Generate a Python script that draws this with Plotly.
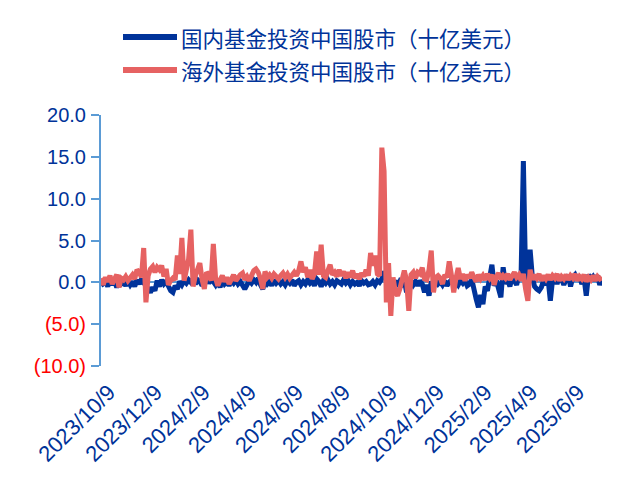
import pandas as pd
import plotly.graph_objects as go

# series, one value roughly every 3 days from 2023/10/9
start_date = "2023-10-09"

domestic = [
    -0.4, -0.2, 0.1, -0.5, 0.3, -0.3, 0.2, -0.6, 0.1, -0.2,
    0.0, -0.4, 0.2, -0.3, 0.1, -0.5, 0.3, -0.2, 0.4, -0.1,
    -0.3, -0.8, -1.2, -0.6, -1.0, 0.2, -0.5, 0.3, -0.2, 0.1,
    -0.6, -1.0, -1.2, -0.4, -0.8, 0.1, -0.3, 0.2, -0.1, 0.3,
    0.0, 0.4, -0.2, 0.3, 0.1, -0.4, 0.2, 0.5, -0.1, 0.3,
    0.1, -0.3, 0.2, -0.6, 0.3, -0.2, 0.1, -0.4, 0.2, -0.1,
    0.3, -0.2, 0.1, -0.5, -0.8, -0.3, 0.2, -0.1, 0.3, 0.0,
    0.5, -0.3, -0.8, 0.2, -0.2, 0.1, -0.4, 0.3, -0.1, 0.2,
    -0.2, 0.1, -0.3, 0.2, -0.1, 0.3, -0.4, 0.0, 0.2, -0.3,
    0.1, -0.2, 0.3, -0.1, 0.2, -0.4, 0.4, 0.1, -0.5, 0.2,
    -0.1, 0.3, -0.2, 0.1, -0.3, 0.2, 0.0, -0.2, 0.3, -0.1,
    0.2, -0.3, 0.1, -0.2, 0.0, -0.4, 0.2, -0.1, 0.1, -0.3,
    -0.2, 0.1, -0.3, 0.2, 0.0, 0.4, 1.3, 0.3, -0.2, 0.1,
    -0.3, 0.2, -0.5, 0.1, -0.2, 0.3, -1.2, 0.0, 0.2, -0.3,
    0.1, -0.4, 0.2, -0.2, -1.2, -0.3, -1.6, 0.1, -0.5, 0.2,
    -0.2, 0.1, -0.3, 0.2, -0.4, 0.0, 0.3, -0.2, 0.1, -0.3,
    0.2, -0.1, 0.3, -0.4, -0.2, 0.4, -1.0, -2.0, -3.0, -1.5,
    -2.6, -0.5, -1.0, 0.3, 2.1, -0.4, 0.2, -0.8, -1.8, 1.8,
    -0.2, 0.4, -0.5, 0.6, 0.2, -0.3, 0.8, 1.1, 14.5, 0.5,
    0.4, 3.9, 0.6, -0.5, -0.8, -1.0, -0.6, 0.2, -0.3, 0.4,
    -2.2, 0.3, 0.6, -0.2, 0.8, 0.4, -0.3, 0.5, 0.9, -0.5,
    0.6, 0.9, 0.3, 0.8, -0.2, 0.5, -1.6, 0.9, 0.4, 0.7,
    0.2, 0.8, -0.3, 0.5,
]

overseas = [
    0.5, -0.3, 0.6, 0.1, 0.8, -0.2, 0.4, 0.9, -0.6, 0.5,
    0.3, 0.7, 0.2, 0.5, 0.9, 0.4, 1.5, 1.2, 0.6, 4.1,
    -2.4, 0.8, 1.6, 1.9, 1.2, 1.8, 1.5, 2.0, 0.7, 1.6,
    -0.3, 0.2, 0.5, 0.3, 3.2, 1.0, 5.3, 0.2, 1.5, 2.8,
    6.3, -0.5, 0.8, 1.5, 2.3, 0.3, -0.8, 1.2, 0.9, 0.2,
    4.6, 0.5, -0.4, 0.3, 0.8, 0.1, 0.6, -0.2, 0.4, 0.9,
    0.2, 0.6, 0.9, 1.1, 0.3, 0.7, 0.2, 0.8, 1.4, 1.6,
    1.2, 0.4, -0.8, 1.3, 0.6, 0.9, 0.5, 1.0, 0.7, 0.4,
    0.8, 1.1, 0.6, 1.0, 0.5, 0.9, 1.2, 0.8, 1.4, 2.5,
    1.2, 1.8, 0.6, 1.5, 0.4, 1.0, 3.7, 0.9, 4.5, 0.8,
    0.6, 1.4, 2.1, 0.9, 1.2, 0.7, 1.5, 0.8, 1.3, 0.5,
    1.2, 0.6, 1.4, 0.5, 1.0, 0.4, 1.1, 0.7, 1.5, 0.8,
    3.5, 2.0, 3.2, 1.0, 0.8, 16.1, 13.3, -2.4, 2.3, -4.0,
    0.6, -1.2, -1.6, -0.8, 0.4, 1.4, 0.3, -3.4, 0.9, 1.2,
    0.5, 1.2, 1.0, 1.75, 0.4, 0.3, 1.5, 3.8, -1.2, 0.6,
    0.8, 0.5, -0.2, 0.9, 0.6, 2.5, 0.8, -1.2, 0.5, 1.7,
    0.4, 1.0, 0.2, 0.9, 0.5, 1.2, 0.6, 0.1, 0.9, 0.4,
    0.8, 0.3, 1.0, 0.5, 0.9, -0.3, 0.7, 1.1, 0.4, 0.8,
    0.5, 1.0, 0.3, 0.8, 1.2, 0.6, 0.9, 0.2, 1.0, -0.8,
    -2.2, 1.5, 0.3, 0.9, 0.5, 1.0, 0.2, 0.8, 0.4, 0.9,
    0.3, 0.8, 0.5, 1.0, 0.2, 0.7, 0.4, 0.9, 0.3, 0.8,
    0.5, 1.0, 0.2, 0.7, 0.4, 0.9, 0.1, 0.6, 0.3, 0.8,
    0.2, 0.7, 0.4, 0.6,
]

names = ["国内基金投资中国股市（十亿美元）", "海外基金投资中国股市（十亿美元）"]
y_ticks = [-10, -5, 0, 5, 10, 15, 20]
y_labels = ["(10.0)", "(5.0)", "0.0", "5.0", "10.0", "15.0", "20.0"]

BLUE = "#00339A"
RED = "#E66262"
AXIS = "#5B9BD5"
TEXT = "#003399"

dates = pd.date_range(start_date, periods=len(domestic), freq="70h")

fig = go.Figure()
fig.add_trace(go.Scatter(x=dates, y=domestic, mode="lines", name=names[0],
                         line=dict(color=BLUE, width=5)))
fig.add_trace(go.Scatter(x=dates, y=overseas, mode="lines", name=names[1],
                         line=dict(color=RED, width=5)))

# y tick labels: negatives in red with brackets
ticktext = []
for v, lab in zip(y_ticks, y_labels):
    col = "#FF0000" if v < 0 else TEXT
    ticktext.append(f"<span style='color:{col}'>{lab}</span>")

# page body has an 8px margin, so margins are 8px smaller on the left/top
fig.update_layout(
    width=634, height=488,
    margin=dict(l=93, r=40, t=107, b=130),
    paper_bgcolor="white", plot_bgcolor="white",
    showlegend=False,
    font=dict(family="Arial, Liberation Sans", color=TEXT),
)

fig.update_xaxes(
    type="date",
    range=[dates[0], dates[-1]],
    tick0=start_date, dtick="M2",
    tickformat="%Y/%-m/%-d",
    tickangle=-45,
    tickfont=dict(size=22, color=TEXT),
    showgrid=False, showline=False, ticks="",
    ticklabelstandoff=8,
    ticklabelshift=8,
)

fig.update_yaxes(
    range=[-10, 20],
    tickvals=y_ticks, ticktext=ticktext,
    tickfont=dict(size=20),
    showgrid=False,
    showline=True, linecolor=AXIS, linewidth=2,
    ticks="outside", ticklen=8, tickcolor=AXIS, tickwidth=2,
    zeroline=True, zerolinecolor=AXIS, zerolinewidth=2,
    ticklabelstandoff=1,
)

# legend drawn by hand so the sample lines can be long like the original
for k, (nm, col) in enumerate(zip(names, [BLUE, RED])):
    dy = 78 - 33 * k
    fig.add_shape(type="line", xref="paper", yref="paper",
                  xsizemode="pixel", ysizemode="pixel",
                  xanchor=0, yanchor=1,
                  x0=22, x1=76, y0=dy, y1=dy,
                  line=dict(color=col, width=6))
    fig.add_annotation(text=nm, xref="paper", yref="paper", x=0, y=1,
                       xanchor="left", yanchor="middle",
                       xshift=78, yshift=dy, showarrow=False,
                       font=dict(family="Noto Sans CJK SC", size=21.5, color=TEXT))

fig.write_html("out.html")
